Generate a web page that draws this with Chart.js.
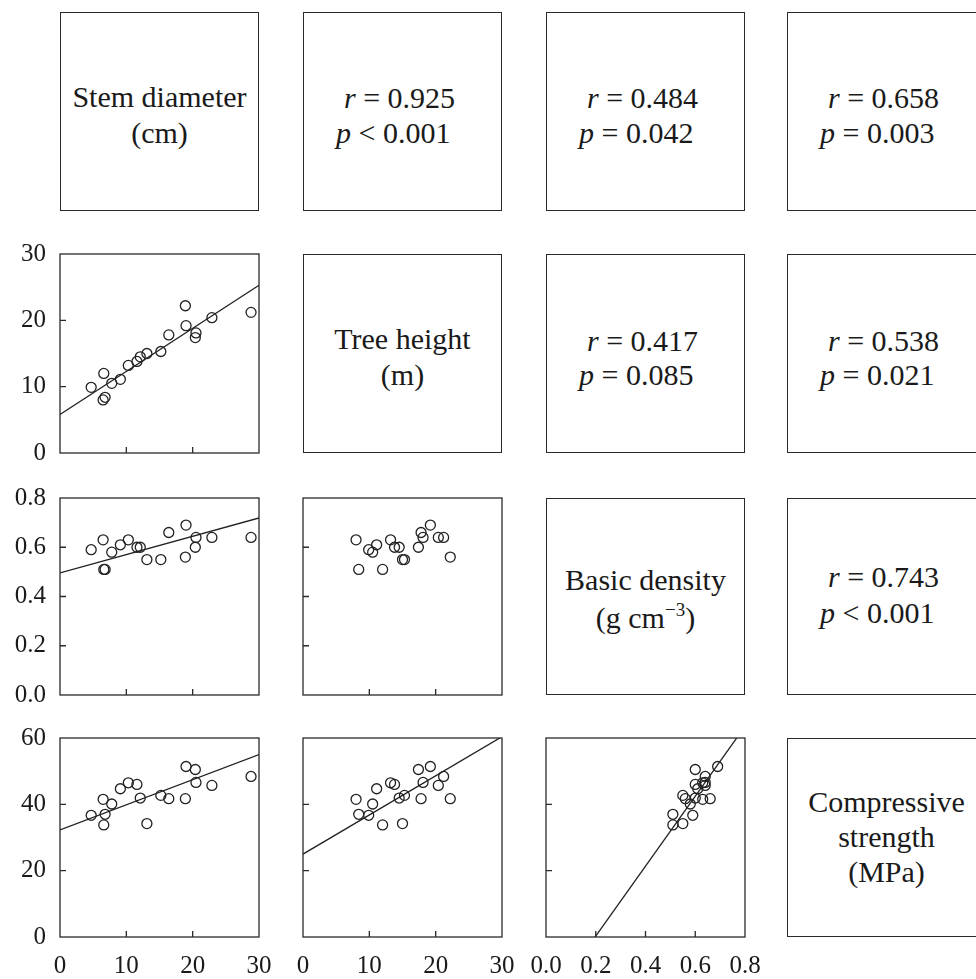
<!DOCTYPE html>
<html><head><meta charset="utf-8">
<script src="https://cdn.jsdelivr.net/npm/chart.js@4.4.1/dist/chart.umd.min.js"></script>
<style>
html,body{margin:0;padding:0;width:976px;height:979px;overflow:hidden;background:#fff;}
#wrap{position:relative;width:976px;height:979px;overflow:hidden;}
canvas{position:absolute;}
.box{position:absolute;box-sizing:border-box;border:1.3px solid #2a2a2a;font-family:"Liberation Serif","Times New Roman",serif;font-size:30px;color:#1a1a1a;}
.ln{position:absolute;white-space:nowrap;line-height:30px;height:30px;}
.ln i{font-style:italic;}
sup{font-size:19px;line-height:0;vertical-align:12px;}
</style></head><body><div id="wrap"></div>
<script>
// ---- data (one value per tree) ----
const diameter   = [4.7, 6.5, 6.6, 6.8, 7.8, 9.1, 10.3, 11.6, 12.1, 13.1, 15.2, 16.4, 18.9, 19.0, 20.4, 20.5, 22.9, 28.8];
const treeHeight = [9.9, 8.0, 12.0, 8.4, 10.5, 11.1, 13.2, 13.8, 14.5, 15.0, 15.3, 17.8, 22.2, 19.2, 17.4, 18.1, 20.4, 21.2];
const density    = [0.59, 0.63, 0.51, 0.51, 0.58, 0.61, 0.63, 0.60, 0.60, 0.55, 0.55, 0.66, 0.56, 0.69, 0.60, 0.64, 0.64, 0.64];
const strength   = [36.7, 41.5, 33.8, 37.0, 40.1, 44.7, 46.5, 46.0, 41.9, 34.2, 42.7, 41.7, 41.7, 51.4, 50.5, 46.6, 45.7, 48.4];

// ---- tick labels ----
const diameterTicks = [0, 10, 20, 30];
const heightTicks   = [0, 10, 20, 30];
const densityTicks  = [0, 0.2, 0.4, 0.6, 0.8];
const strengthTicks = [0, 20, 40, 60];

// ---- fitted lines (y = intercept + slope * x) ----
const fitNames      = ['height~diameter', 'density~diameter', 'strength~diameter', 'strength~height', 'strength~density'];
const fitIntercepts = [5.8, 0.496, 32.3, 25.0, -20.8];
const fitSlopes     = [0.65, 0.00743, 0.757, 1.18, 105.4];

// ---- text panels ----
const diagLabels = [["Stem diameter", "(cm)"], ["Tree height", "(m)"], ["Basic density", "(g cm<sup>\u22123</sup>)"], ["Compressive", "strength", "(MPa)"]];
const corrR = ["0.925", "0.484", "0.658", "0.417", "0.538", "0.743"];
const corrP = ["< 0.001", "= 0.042", "= 0.003", "= 0.085", "= 0.021", "< 0.001"];

// ---- layout ----
const colX = [60, 303, 546, 787];
const rowY = [12, 254, 498, 738];
const colW = 199;
const rowH = [199, 199, 197, 199];

const vars = {
  d:   {values: diameter,   min: 0, max: 30,  ticks: diameterTicks, fmt: v => String(v)},
  h:   {values: treeHeight, min: 0, max: 30,  ticks: heightTicks,   fmt: v => String(v)},
  rho: {values: density,    min: 0, max: 0.8, ticks: densityTicks,  fmt: v => v.toFixed(1)},
  s:   {values: strength,   min: 0, max: 60,  ticks: strengthTicks, fmt: v => String(v)}
};
const scatterPanels = [
  {row: 1, col: 0, x: 'd',   y: 'h',   fit: 0},
  {row: 2, col: 0, x: 'd',   y: 'rho', fit: 1},
  {row: 3, col: 0, x: 'd',   y: 's',   fit: 2},
  {row: 2, col: 1, x: 'h',   y: 'rho', fit: null},
  {row: 3, col: 1, x: 'h',   y: 's',   fit: 3},
  {row: 3, col: 2, x: 'rho', y: 's',   fit: 4}
];

const wrap = document.getElementById('wrap');
const INK = '#1a1a1a';
const FONT = {family: '"Liberation Serif","Times New Roman",serif', size: 25};

function makeScatter(p) {
  const vx = vars[p.x], vy = vars[p.y];
  const padL = p.col === 0 ? 60 : 36, padB = p.row === 3 ? 42 : 36, padT = 36, padR = 36;
  const W = colW + padL + padR, H = rowH[p.row] + padT + padB;
  const cv = document.createElement('canvas');
  cv.width = W; cv.height = H;
  cv.style.left = (colX[p.col] - padL) + 'px';
  cv.style.top = (rowY[p.row] - padT) + 'px';
  cv.style.width = W + 'px'; cv.style.height = H + 'px';
  wrap.appendChild(cv);

  const datasets = [{
    data: vx.values.map((x, i) => ({x: x, y: vy.values[i]})),
    pointRadius: 5, pointHoverRadius: 5, pointBorderWidth: 1.3,
    pointBorderColor: '#222', pointBackgroundColor: 'rgba(0,0,0,0)', showLine: false
  }];
  if (p.fit !== null) {
    const a = fitIntercepts[p.fit], b = fitSlopes[p.fit];
    datasets.push({
      data: [{x: vx.min, y: a + b * vx.min}, {x: vx.max, y: a + b * vx.max}],
      showLine: true, borderColor: '#222', borderWidth: 1.3, pointRadius: 0, fill: false
    });
  }
  const frame = {
    id: 'frame',
    afterDraw(chart) {
      const {ctx, chartArea: a, scales} = chart;
      ctx.save();
      ctx.strokeStyle = '#2a2a2a'; ctx.lineWidth = 1.3;
      ctx.strokeRect(a.left, a.top, a.right - a.left, a.bottom - a.top);
      ctx.beginPath();
      vx.ticks.forEach(v => {
        if (v === vx.min || v === vx.max) return;
        const px = scales.x.getPixelForValue(v);
        ctx.moveTo(px, a.bottom); ctx.lineTo(px, a.bottom - 6);
      });
      vy.ticks.forEach(v => {
        if (v === vy.min || v === vy.max) return;
        const py = scales.y.getPixelForValue(v);
        ctx.moveTo(a.left, py); ctx.lineTo(a.left + 6, py);
      });
      ctx.stroke();
      ctx.restore();
    }
  };
  new Chart(cv, {
    type: 'scatter',
    data: {datasets},
    plugins: [frame],
    options: {
      responsive: false, animation: false, events: [],
      layout: {padding: {top: padT, right: padR, left: 0, bottom: 0}},
      plugins: {legend: {display: false}, tooltip: {enabled: false}},
      scales: {
        x: {
          type: 'linear', min: vx.min, max: vx.max,
          grid: {display: false, drawTicks: false}, border: {display: false},
          afterBuildTicks: s => { s.ticks = vx.ticks.map(v => ({value: v})); },
          afterFit: s => { s.height = padB; },
          ticks: {display: p.row === 3, padding: 14, color: INK, font: FONT, maxRotation: 0, autoSkip: false,
                  callback: v => vx.fmt(v)}
        },
        y: {
          type: 'linear', min: vy.min, max: vy.max,
          grid: {display: false, drawTicks: false}, border: {display: false},
          afterBuildTicks: s => { s.ticks = vy.ticks.map(v => ({value: v})); },
          afterFit: s => { s.width = padL; },
          ticks: {display: p.col === 0, padding: 14, color: INK, font: FONT, autoSkip: false,
                  callback: v => vy.fmt(v)}
        }
      }
    }
  });
}
scatterPanels.forEach(makeScatter);

// ---- text boxes ----
function makeBox(row, col) {
  const d = document.createElement('div');
  d.className = 'box';
  d.style.left = colX[col] + 'px'; d.style.top = rowY[row] + 'px';
  d.style.width = colW + 'px'; d.style.height = rowH[row] + 'px';
  wrap.appendChild(d);
  return d;
}
function addLine(box, html, baseline, left) {
  const l = document.createElement('div');
  l.className = 'ln';
  l.innerHTML = html;
  l.style.top = (baseline - 25) + 'px';
  if (left === undefined) { l.style.left = '0'; l.style.width = '100%'; l.style.textAlign = 'center'; }
  else l.style.left = left + 'px';
  box.appendChild(l);
}
const diagBaselines = [[94, 130], [94, 130], [91, 129], [73, 108, 143]];
diagLabels.forEach((lines, k) => {
  const b = makeBox(k, k);
  lines.forEach((t, j) => addLine(b, t, diagBaselines[k][j]));
});
const corrCells = [[0, 1], [0, 2], [0, 3], [1, 2], [1, 3], [2, 3]];
const corrBaselines = [[95, 130], [96, 130], [88, 124]];
corrCells.forEach(([r, c], k) => {
  const b = makeBox(r, c);
  addLine(b, '<i>r</i> = ' + corrR[k], corrBaselines[r][0], 40);
  addLine(b, '<i>p</i> ' + corrP[k], corrBaselines[r][1], 32);
});
</script></body></html>
